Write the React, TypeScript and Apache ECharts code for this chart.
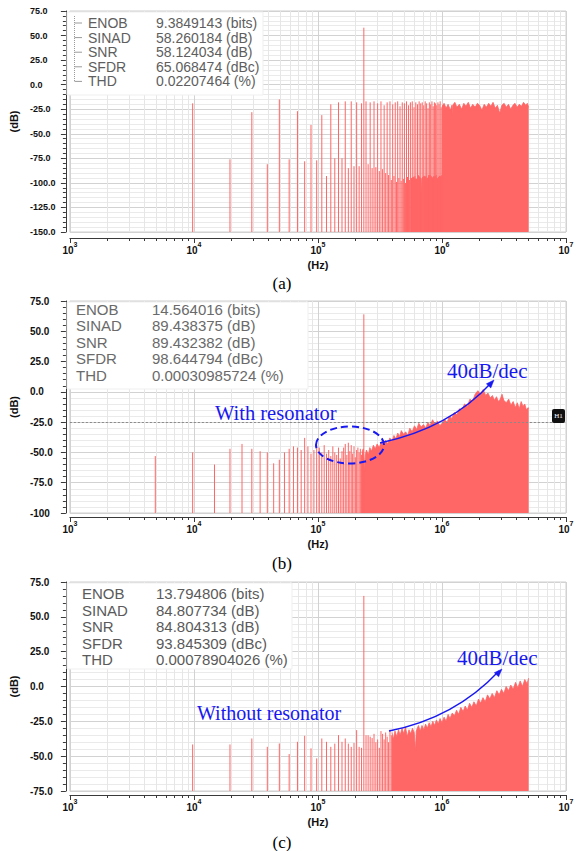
import React, { useEffect, useRef } from 'react';
import * as echarts from 'echarts';

// ------------------------------------------------------------------ data
const metricNames = ['ENOB', 'SINAD', 'SNR', 'SFDR', 'THD'];
const aMetricValues = ['9.3849143 (bits)', '58.260184 (dB)', '58.124034 (dB)', '65.068474 (dBc)', '0.02207464 (%)'];
const bMetricValues = ['14.564016 (bits)', '89.438375 (dB)', '89.432382 (dB)', '98.644794 (dBc)', '0.00030985724 (%)'];
const cMetricValues = ['13.794806 (bits)', '84.807734 (dB)', '84.804313 (dB)', '93.845309 (dBc)', '0.00078904026 (%)'];

const xExponents = [3, 4, 5, 6, 7];
const aYLabels = ['-150.0', '-125.0', '-100.0', '-75.0', '-50.0', '-25.0', '0.0', '25.0', '50.0', '75.0'];
const bYLabels = ['-100', '-75.0', '-50.0', '-25.0', '0.0', '25.0', '50.0', '75.0'];
const cYLabels = ['-75.0', '-50.0', '-25.0', '0.0', '25.0', '50.0', '75.0'];

// FFT bin spacing (Hz)
const aBinHz = 9765.625;
const bBinHz = 4882.8125;
const cBinHz = 9765.625;

// (a) individual bins 1..102 (dB)
const aBinDb = [
  -19, -76, -28, -81, -15, -76, -27, -78, -41, -77,
  -31, -93, -20, -75, -18, -75, -17, -85, -17, -83,
  -18, -83, -19, 58, -17, -81, -18, -85, -17, -84,
  -19, -88, -17, -86, -21, -90, -18, -92, -17, -97,
  -20, -93, -18, -99, -17, -95, -22, -98, -18, -96,
  -19, -100, -17, -94, -21, -97, -18, -95, -17, -98,
  -23, -93, -18, -96, -20, -92, -17, -95, -19, -110,
  -18, -94, -21, -96, -17, -93, -19, -95, -24, -92,
  -18, -96, -20, -94, -17, -97, -22, -93, -18, -95,
  -19, -92, -21, -96, -18, -94, -20, -93, -17, -95,
  -23, -92,
];
// (a) solid noise floor under the comb, 560 kHz .. 1 MHz
const aFloorHz = [560e3, 590e3, 620e3, 650e3, 680e3, 686e3, 692e3, 720e3, 760e3, 800e3, 840e3, 880e3, 920e3, 960e3, 1.0e6];
const aFloorDb = [-96, -94, -97, -93, -96, -110, -95, -93, -96, -92, -95, -93, -96, -93, -94];
// (a) dense part 1 MHz .. 5 MHz
const aDenseHz = [
  1.0e6, 1.04e6, 1.08e6, 1.12e6, 1.17e6, 1.2e6, 1.21e6, 1.22e6, 1.27e6, 1.32e6,
  1.38e6, 1.44e6, 1.5e6, 1.56e6, 1.63e6, 1.7e6, 1.77e6, 1.85e6, 1.93e6, 2.01e6,
  2.1e6, 2.19e6, 2.28e6, 2.38e6, 2.48e6, 2.58e6, 2.69e6, 2.8e6, 2.92e6, 3.04e6,
  3.17e6, 3.3e6, 3.44e6, 3.58e6, 3.73e6, 3.88e6, 4.04e6, 4.2e6, 4.37e6, 4.55e6,
  4.73e6, 4.88e6, 5.0e6,
];
const aDenseDb = [
  -22, -19, -24, -20, -26, -21, -31, -21, -18, -23,
  -20, -25, -19, -22, -18, -24, -20, -23, -19, -21,
  -26, -20, -23, -19, -22, -18, -24, -21, -29, -21,
  -19, -23, -20, -25, -21, -19, -23, -20, -22, -18,
  -21, -19, -23,
];

// (b) individual bins 1..46 and the tone at bin 48
const bBinDb = [
  -53, -50, -60, -47, -43, -47, -49, -50, -59, -56,
  -50, -47, -45, -46, -48, -38, -45, -51, -48, -44,
  -46, -50, -44, -51, -48, -53, -45, -50, -52, -46,
  -55, -49, -46, -43, -52, -42, -49, -44, -51, -45,
  -54, -48, -46, -50, -47, -52,
];
const bToneBin = 48;
const bToneDb = 64;
const bDenseHz = [
  226e3, 232e3, 238e3, 241e3, 246e3, 255e3, 262e3, 270e3, 280e3, 290e3,
  300e3, 312e3, 325e3, 338e3, 350e3, 365e3, 380e3, 395e3, 410e3, 425e3,
  440e3, 455e3, 470e3, 490e3, 510e3, 530e3, 550e3, 575e3, 600e3, 625e3,
  650e3, 680e3, 710e3, 740e3, 770e3, 800e3, 840e3, 880e3, 920e3, 960e3,
  1.0e6, 1.05e6, 1.1e6, 1.15e6, 1.2e6, 1.26e6, 1.32e6, 1.38e6, 1.45e6, 1.52e6,
  1.6e6, 1.68e6, 1.76e6, 1.85e6, 1.95e6, 2.05e6, 2.15e6, 2.25e6, 2.35e6, 2.45e6,
  2.55e6, 2.65e6, 2.75e6, 2.85e6, 2.95e6, 3.05e6, 3.15e6, 3.3e6, 3.45e6, 3.6e6,
  3.75e6, 3.9e6, 4.05e6, 4.2e6, 4.35e6, 4.5e6, 4.65e6, 4.8e6, 4.95e6, 5.0e6,
];
const bDenseDb = [
  -50, -47, -66, -52, -48, -52, -46, -49, -44, -47,
  -43, -46, -41, -44, -40, -43, -38, -41, -36, -39,
  -34, -37, -32, -35, -33, -36, -30, -33, -28, -31,
  -26, -29, -27, -30, -25, -28, -23, -27, -24, -28,
  -26, -23, -25, -20, -22, -17, -19, -14, -15, -10,
  -12, -6, -8, -2, 1, -2, 2, -3, -1, -5,
  -3, -7, -4, -8, -6, -2, -7, -9, -6, -11,
  -8, -13, -9, -14, -8, -12, -10, -15, -13, -14,
];
const bMarkerDb = -25;

// (c) individual bins 1..40 (tone at bin 24)
const cBinDb = [
  -41.6, -41.6, -37.3, -43.3, -40.9, -48.5, -39.7, -35.4, -44.4, -51.6,
  -37.3, -39.7, -43.3, -41, -34.9, -39.7, -37.3, -41, -43.3, -40.5,
  -31.3, -43.3, -44, 65, -35, -35, -36, -37, -34, -40,
  -38, -44, -32, -34, -38, -33, -36, -40, -31, -35,
];
const cDenseHz = [
  395e3, 405e3, 418e3, 432e3, 446e3, 460e3, 476e3, 492e3, 508e3, 525e3,
  542e3, 560e3, 578e3, 597e3, 612e3, 620e3, 632e3, 646e3, 668e3, 690e3,
  714e3, 738e3, 762e3, 788e3, 815e3, 843e3, 872e3, 902e3, 933e3, 965e3,
  1.0e6, 1.04e6, 1.08e6, 1.12e6, 1.16e6, 1.21e6, 1.26e6, 1.31e6, 1.36e6, 1.42e6,
  1.48e6, 1.54e6, 1.6e6, 1.67e6, 1.74e6, 1.81e6, 1.89e6, 1.97e6, 2.05e6, 2.14e6,
  2.23e6, 2.33e6, 2.43e6, 2.54e6, 2.65e6, 2.77e6, 2.89e6, 3.02e6, 3.15e6, 3.29e6,
  3.44e6, 3.59e6, 3.75e6, 3.92e6, 4.09e6, 4.27e6, 4.46e6, 4.65e6, 4.85e6, 5.0e6,
];
const cDenseDb = [
  -33, -38, -32, -36, -31, -35, -30, -34, -29, -36,
  -31, -34, -30, -33, -46, -32, -30, -28, -32, -28,
  -31, -27, -30, -26, -29, -25, -28, -24, -27, -23,
  -26, -22, -25, -20, -23, -19, -21, -17, -20, -15,
  -18, -14, -17, -12, -15, -11, -14, -9, -12, -8,
  -11, -6, -9, -5, -8, -3, -6, -2, -5, 0,
  -3, 1, -2, 3, -1, 4, 0, 5, 2, 6,
];

// ------------------------------------------------------------------ style / layout
const FONT = "'Liberation Sans', Arial, Helvetica, sans-serif";
const SERIF = "'Liberation Serif', 'Times New Roman', Times, serif";
const RED = '#ff6666';
const BLUE = '#1818f0';
const AXIS = '#3a3a3a';
const GRID_LEFT = 66;
const GRID_RIGHT = 16;

const panels = [
  { top: 11, height: 221, min: -150, max: 75, xOff: 6, yFont: 9, labels: aYLabels,
    binHz: aBinHz, bins: aBinDb, denseHz: aDenseHz, denseDb: aDenseDb },
  { top: 301, height: 212, min: -100, max: 75, xOff: 4, yFont: 10, labels: bYLabels,
    binHz: bBinHz, bins: bBinDb, denseHz: bDenseHz, denseDb: bDenseDb },
  { top: 582, height: 209, min: -75, max: 75, xOff: 4, yFont: 10, labels: cYLabels,
    binHz: cBinHz, bins: cBinDb, denseHz: cDenseHz, denseDb: cDenseDb },
];

function stemSeries(idx: number, points: number[][], yMin: number) {
  return {
    type: 'custom',
    xAxisIndex: idx,
    yAxisIndex: idx,
    data: points,
    encode: { x: 0, y: 1 },
    z: 3,
    silent: true,
    renderItem: (params: any, api: any) => {
      const f = api.value(0);
      const v = api.value(1);
      const top = api.coord([f, v]);
      const bot = api.coord([f, yMin]);
      return {
        type: 'line',
        shape: { x1: top[0], y1: bot[1], x2: top[0], y2: top[1] },
        style: { stroke: RED, lineWidth: 1 },
      };
    },
  };
}

function areaSeriesOf(idx: number, hz: number[], db: number[]) {
  const n = Math.min(hz.length, db.length);
  const data: number[][] = [];
  for (let k = 0; k < n; k++) data.push([hz[k], db[k]]);
  return {
    type: 'line', xAxisIndex: idx, yAxisIndex: idx, data, symbol: 'none', silent: true, z: 2,
    lineStyle: { width: 0.8, color: RED }, itemStyle: { color: RED },
    areaStyle: { color: RED, opacity: 1, origin: 'start' },
  } as any;
}

function arrowHead(ex: number, ey: number, cx: number, cy: number, len: number, half: number) {
  const dx = ex - cx;
  const dy = ey - cy;
  const L = Math.hypot(dx, dy);
  const ux = dx / L;
  const uy = dy / L;
  const bx = ex - ux * len;
  const by = ey - uy * len;
  return [[ex, ey], [bx - uy * half, by + ux * half], [bx + uy * half, by - ux * half]];
}

function legendBox(x: number, y: number, w: number, h: number, nameX: number, valX: number,
  rowY: number, rowStep: number, fontSize: number, color: string, values: string[]) {
  const els: any[] = [
    { type: 'rect', shape: { x, y, width: w, height: h }, style: { fill: '#ffffff', stroke: '#efefef', lineWidth: 1 }, z: 50 },
  ];
  metricNames.forEach((n, i) => {
    els.push({ type: 'text', x: nameX, y: rowY + i * rowStep, z: 51,
      style: { text: n, fill: color, font: `${fontSize}px ${FONT}`, textAlign: 'left', textVerticalAlign: 'middle' } });
    els.push({ type: 'text', x: valX, y: rowY + i * rowStep, z: 51,
      style: { text: values[i], fill: color, font: `${fontSize}px ${FONT}`, textAlign: 'left', textVerticalAlign: 'middle' } });
  });
  return els;
}

function buildOption() {
  const grid: any[] = [];
  const xAxis: any[] = [];
  const yAxis: any[] = [];
  const series: any[] = [];

  panels.forEach((p, i) => {
    grid.push({
      left: GRID_LEFT, right: GRID_RIGHT, top: p.top, height: p.height,
      show: true, borderColor: '#cfcfcf', borderWidth: 1, backgroundColor: '#ffffff',
    });
    xAxis.push({
      type: 'log', logBase: 10, min: 1000, max: 1e7, gridIndex: i, offset: p.xOff,
      axisLine: { show: true, onZero: false, lineStyle: { color: AXIS, width: 1 } },
      axisTick: { show: true, length: 5, lineStyle: { color: AXIS } },
      minorTick: { show: true, splitNumber: 9, length: 3, lineStyle: { color: AXIS } },
      splitLine: { show: true, lineStyle: { color: '#d2d2d2', width: 1 } },
      minorSplitLine: { show: true, lineStyle: { color: '#e6e6e6', width: 1 } },
      axisLabel: {
        margin: 3,
        color: '#111',
        formatter: (v: number) => `{b|10}{s|${xExponents[Math.round(Math.log10(v)) - 3]}}`,
        rich: {
          b: { fontFamily: FONT, fontWeight: 'bold', fontSize: 10, lineHeight: 14, verticalAlign: 'bottom', color: '#111' },
          s: { fontFamily: FONT, fontWeight: 'bold', fontSize: 7, lineHeight: 8, verticalAlign: 'top', color: '#111' },
        },
      },
      name: '(Hz)', nameLocation: 'middle', nameGap: 21,
      nameTextStyle: { fontFamily: FONT, fontWeight: 'bold', fontSize: 11, color: '#111' },
    });
    yAxis.push({
      type: 'value', gridIndex: i, min: p.min, max: p.max, interval: 25, offset: 4,
      axisLine: { show: true, lineStyle: { color: AXIS, width: 1 } },
      axisTick: { show: true, length: 5, lineStyle: { color: AXIS } },
      minorTick: { show: true, splitNumber: 5, length: 3, lineStyle: { color: AXIS } },
      splitLine: { show: true, lineStyle: { color: '#d2d2d2', width: 1 } },
      minorSplitLine: { show: true, lineStyle: { color: '#eaeaea', width: 1 } },
      axisLabel: {
        align: 'left', margin: 36, color: '#111', fontFamily: FONT, fontWeight: 'bold', fontSize: p.yFont,
        showMinLabel: true, showMaxLabel: true,
        formatter: (v: number) => p.labels[Math.round((v - p.min) / 25)] ?? '',
      },
      name: '(dB)', nameLocation: 'middle', nameGap: 37, nameRotate: 90,
      nameTextStyle: { fontFamily: FONT, fontWeight: 'bold', fontSize: 11, color: '#111' },
    });

    const area = areaSeriesOf(i, p.denseHz, p.denseDb);
    if (i === 1) {
      area.markLine = {
        silent: true, symbol: 'none', animation: false,
        label: { show: false },
        lineStyle: { color: '#8a8a8a', type: [2, 2], width: 1 },
        data: [{ yAxis: bMarkerDb }],
      };
    }
    series.push(area);
    if (i === 0) series.push(areaSeriesOf(0, aFloorHz, aFloorDb));

    const stems: number[][] = p.bins.map((v, k) => [(k + 1) * p.binHz, v]);
    if (i === 1) stems.push([bToneBin * bBinHz, bToneDb]);
    series.push(stemSeries(i, stems, p.min));
  });

  // ----- graphics
  const graphic: any[] = [];
  graphic.push(...legendBox(67, 12, 196, 83, 88, 156, 23, 14.6, 14, '#5e5e5e', aMetricValues));
  graphic.push({ type: 'line', z: 52, shape: { x1: 74.5, y1: 16, x2: 74.5, y2: 82 },
    style: { stroke: '#9a9a9a', lineWidth: 1, lineDash: [1, 1] } });
  for (let r = 0; r < 5; r++) {
    const yy = 23 + r * 14.6;
    graphic.push({ type: 'line', z: 52, shape: { x1: 74.5, y1: yy, x2: 82, y2: yy },
      style: { stroke: '#9a9a9a', lineWidth: 1 } });
  }
  graphic.push(...legendBox(67, 302, 241, 87, 76, 152, 309.5, 16.4, 15, '#6a6a6a', bMetricValues));
  graphic.push(...legendBox(67, 583, 225, 86, 82, 156, 593.5, 16.5, 15, '#5a5a5a', cMetricValues));

  [['(a)', 283], ['(b)', 563], ['(c)', 842]].forEach(([t, y]) => {
    graphic.push({ type: 'text', x: 282, y: y as number, z: 60,
      style: { text: t as string, fill: '#000', font: `17px ${SERIF}`, textAlign: 'center', textVerticalAlign: 'middle' } });
  });

  // (b) annotations
  graphic.push({ type: 'text', x: 215, y: 413, z: 60,
    style: { text: 'With resonator', fill: BLUE, font: `20.5px ${SERIF}`, textAlign: 'left', textVerticalAlign: 'middle' } });
  graphic.push({ type: 'text', x: 447, y: 371, z: 60,
    style: { text: '40dB/dec', fill: BLUE, font: `21px ${SERIF}`, textAlign: 'left', textVerticalAlign: 'middle' } });
  graphic.push({ type: 'ellipse', z: 60, shape: { cx: 350, cy: 445, rx: 34, ry: 18.5 },
    style: { fill: 'none', stroke: BLUE, lineWidth: 2, lineDash: [7, 4] } });
  graphic.push({ type: 'bezierCurve', z: 60, shape: { x1: 380, y1: 443, x2: 491, y2: 383, cpx1: 450, cpy1: 428 },
    style: { fill: 'none', stroke: BLUE, lineWidth: 1.4 } });
  graphic.push({ type: 'polygon', z: 60, shape: { points: arrowHead(494, 380, 450, 428, 8, 3) },
    style: { fill: BLUE, stroke: BLUE, lineWidth: 0.5 } });
  graphic.push({ type: 'rect', z: 60, shape: { x: 552, y: 409, width: 13, height: 14, r: 2 },
    style: { fill: '#111' } });
  graphic.push({ type: 'text', z: 61, x: 558.5, y: 416,
    style: { text: 'H1', fill: '#fff', font: `7px ${SERIF}`, textAlign: 'center', textVerticalAlign: 'middle' } });

  // (c) annotations
  graphic.push({ type: 'text', x: 197, y: 713, z: 60,
    style: { text: 'Without resonator', fill: BLUE, font: `20px ${SERIF}`, textAlign: 'left', textVerticalAlign: 'middle' } });
  graphic.push({ type: 'text', x: 457, y: 658, z: 60,
    style: { text: '40dB/dec', fill: BLUE, font: `21px ${SERIF}`, textAlign: 'left', textVerticalAlign: 'middle' } });
  graphic.push({ type: 'bezierCurve', z: 60, shape: { x1: 389, y1: 731, x2: 499, y2: 671, cpx1: 455, cpy1: 718 },
    style: { fill: 'none', stroke: BLUE, lineWidth: 1.4 } });
  graphic.push({ type: 'polygon', z: 60, shape: { points: arrowHead(502, 669, 455, 718, 8, 3) },
    style: { fill: BLUE, stroke: BLUE, lineWidth: 0.5 } });

  return {
    animation: false,
    backgroundColor: '#ffffff',
    textStyle: { fontFamily: FONT },
    grid, xAxis, yAxis, series, graphic,
  };
}

export default function App() {
  const ref = useRef<HTMLDivElement>(null);
  useEffect(() => {
    if (!ref.current) return;
    const chart = echarts.init(ref.current, undefined, { renderer: 'svg' });
    chart.setOption(buildOption() as any);
    return () => chart.dispose();
  }, []);
  return (
    <div
      ref={ref}
      style={{ position: 'fixed', left: 0, top: 0, width: 582, height: 851, background: '#fff' }}
    />
  );
}
